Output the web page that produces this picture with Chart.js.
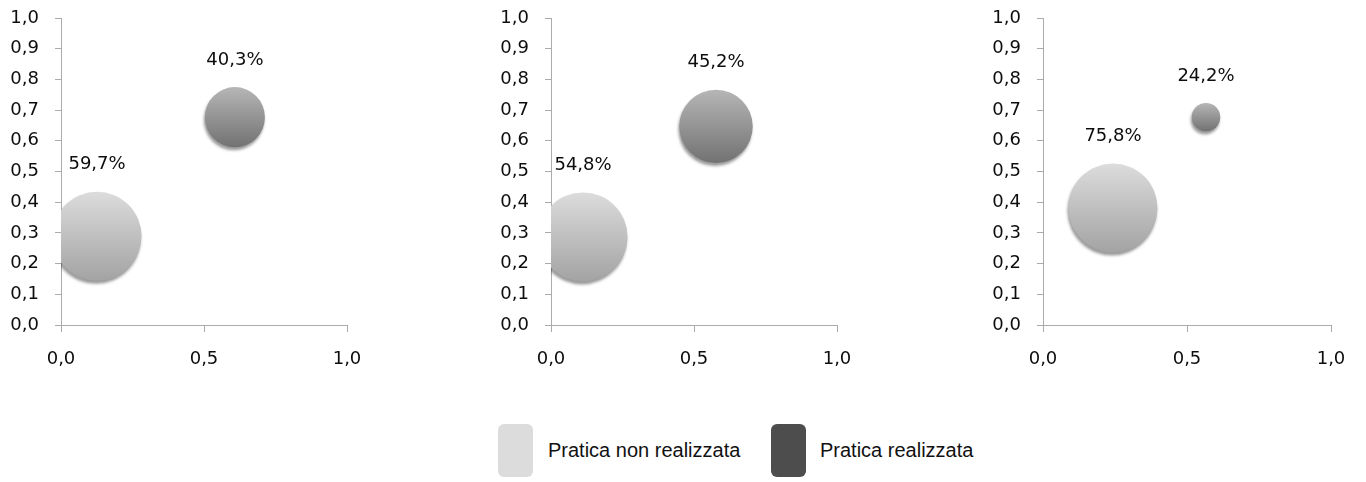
<!DOCTYPE html>
<html>
<head>
<meta charset="utf-8">
<script src="https://cdn.jsdelivr.net/npm/chart.js@4.4.1/dist/chart.umd.min.js"></script>
<style>
  html, body { margin: 0; padding: 0; background: #ffffff; width: 1366px; height: 482px; overflow: hidden; }
  canvas { position: absolute; top: 0; }
  #c1 { left: 0px; }
  #c2 { left: 490px; }
  #c3 { left: 982px; }
  .lg-box { position: absolute; top: 424px; width: 35px; height: 53px; border-radius: 6px; }
  .lg-text { position: absolute; top: 437px; font-family: "Liberation Sans", Arial, sans-serif; font-size: 20px; color: #111111; line-height: 26px; white-space: nowrap; }
</style>
</head>
<body>
<canvas id="c1" width="372" height="385"></canvas>
<canvas id="c2" width="372" height="385"></canvas>
<canvas id="c3" width="374" height="385"></canvas>

<div class="lg-box" style="left:498px; background:#dcdcdc;"></div>
<div class="lg-text" id="lg1" style="left:548px;"></div>
<div class="lg-box" style="left:771px; background:#4d4d4d;"></div>
<div class="lg-text" id="lg2" style="left:820px;"></div>

<script>
// ---- Data ----
const seriesNames = ['Pratica non realizzata', 'Pratica realizzata'];
const xTickLabels = ['0,0', '0,5', '1,0'];
const yTickLabels = ['0,0', '0,1', '0,2', '0,3', '0,4', '0,5', '0,6', '0,7', '0,8', '0,9', '1,0'];

const panelA_x = [0.126, 0.608];
const panelA_y = [0.289, 0.677];
const panelA_pct = [59.7, 40.3];
const panelA_labels = ['59,7%', '40,3%'];

const panelB_x = [0.112, 0.577];
const panelB_y = [0.287, 0.647];
const panelB_pct = [54.8, 45.2];
const panelB_labels = ['54,8%', '45,2%'];

const panelC_x = [0.243, 0.566];
const panelC_y = [0.381, 0.677];
const panelC_pct = [75.8, 24.2];
const panelC_labels = ['75,8%', '24,2%'];

// ---- Styling ----
const TICK_FONT = { family: '"DejaVu Sans", sans-serif', size: 18 };
const TEXT_COLOR = '#0d0d0d';
const AXIS_COLOR = '#ababab';
const MAX_BUBBLE_R = 44.5;
const gradStops = [
  ['#dcdcdc', '#a3a3a3'],
  ['#b6b6b6', '#727272']
];

document.getElementById('lg1').textContent = seriesNames[0];
document.getElementById('lg2').textContent = seriesNames[1];

function makeBg(seriesIdx) {
  return function(ctx) {
    const chart = ctx.chart;
    if (ctx.type !== 'data' || !chart.chartArea || !chart.scales.y) return gradStops[seriesIdx][0];
    const raw = ctx.raw;
    const yc = chart.scales.y.getPixelForValue(raw.y);
    const g = chart.ctx.createLinearGradient(0, yc - raw.r, 0, yc + raw.r);
    g.addColorStop(0, gradStops[seriesIdx][0]);
    g.addColorStop(1, gradStops[seriesIdx][1]);
    return g;
  };
}

const bubbleDecor = {
  id: 'bubbleDecor',
  beforeDatasetsDraw(chart) {
    const c = chart.ctx;
    c.save();
    c.shadowColor = 'rgba(0,0,0,0.4)';
    c.shadowBlur = 3;
    c.shadowOffsetX = -1;
    c.shadowOffsetY = 3;
  },
  afterDatasetsDraw(chart) {
    const c = chart.ctx;
    c.restore();
    const labels = chart.options.plugins.bubbleDecor.labels;
    c.save();
    c.font = '18px "DejaVu Sans", sans-serif';
    c.fillStyle = TEXT_COLOR;
    c.textAlign = 'center';
    c.textBaseline = 'middle';
    chart.data.datasets.forEach((ds, i) => {
      const meta = chart.getDatasetMeta(i);
      meta.data.forEach((el) => {
        const r = el.options.radius;
        c.fillText(labels[i], el.x, el.y - r - 27);
      });
    });
    c.restore();
  }
};

function zeroPad(scale) {
  scale.paddingTop = 0; scale.paddingBottom = 0;
  scale.paddingLeft = 0; scale.paddingRight = 0;
}

function buildChart(id, xs, ys, pcts, labels) {
  const maxP = Math.max(...pcts);
  const datasets = seriesNames.map((name, i) => ({
    label: name,
    data: [{ x: xs[i], y: ys[i], r: MAX_BUBBLE_R * pcts[i] / maxP }],
    backgroundColor: makeBg(i),
    borderWidth: 0,
    hoverRadius: 0,
    clip: 0
  }));
  return new Chart(document.getElementById(id), {
    type: 'bubble',
    data: { datasets },
    plugins: [bubbleDecor],
    options: {
      responsive: false,
      animation: false,
      devicePixelRatio: 1,
      layout: { autoPadding: false, padding: { top: 18, right: 25, left: 0, bottom: 0 } },
      plugins: {
        legend: { display: false },
        tooltip: { enabled: false },
        bubbleDecor: { labels }
      },
      scales: {
        x: {
          type: 'linear', min: 0, max: 1,
          afterFit(scale) { scale.height = 385 - 325; zeroPad(scale); },
          ticks: {
            stepSize: 0.5, font: TICK_FONT, color: TEXT_COLOR, padding: 17, maxRotation: 0,
            callback: (v, idx) => xTickLabels[idx]
          },
          grid: { display: true, drawOnChartArea: false, drawTicks: true, tickLength: 7, color: AXIS_COLOR },
          border: { display: true, color: AXIS_COLOR, width: 1 }
        },
        y: {
          type: 'linear', min: 0, max: 1,
          afterFit(scale) { scale.width = 61; zeroPad(scale); },
          ticks: {
            stepSize: 0.1, font: TICK_FONT, color: TEXT_COLOR, padding: 16,
            callback: (v, idx) => yTickLabels[idx]
          },
          grid: { display: true, drawOnChartArea: false, drawTicks: true, tickLength: 6, color: AXIS_COLOR },
          border: { display: true, color: AXIS_COLOR, width: 1 }
        }
      }
    }
  });
}

buildChart('c1', panelA_x, panelA_y, panelA_pct, panelA_labels);
buildChart('c2', panelB_x, panelB_y, panelB_pct, panelB_labels);
buildChart('c3', panelC_x, panelC_y, panelC_pct, panelC_labels);
</script>
</body>
</html>
